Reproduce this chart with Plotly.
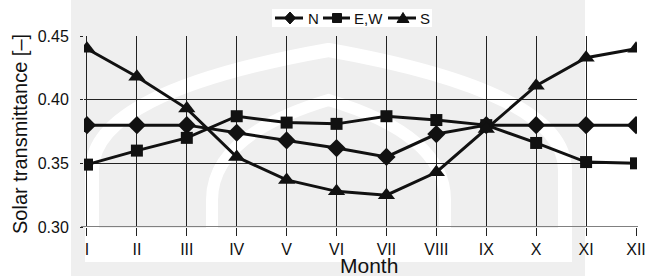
import plotly.graph_objects as go

months = ["I", "II", "III", "IV", "V", "VI", "VII", "VIII", "IX", "X", "XI", "XII"]
month_pos = [1, 2, 3, 4, 5, 6, 7, 8, 9, 10, 11, 12]
north = [0.380, 0.380, 0.380, 0.374, 0.368, 0.362, 0.355, 0.373, 0.380, 0.380, 0.380, 0.380]
east_west = [0.349, 0.360, 0.370, 0.387, 0.382, 0.381, 0.387, 0.384, 0.380, 0.366, 0.351, 0.350]
south = [0.440, 0.418, 0.393, 0.355, 0.337, 0.328, 0.325, 0.343, 0.377, 0.411, 0.433, 0.440]
series_names = ["N", "E,W", "S"]
y_ticks = [0.30, 0.35, 0.40, 0.45]
y_tick_labels = ["0.30", "0.35", "0.40", "0.45"]

W, H = 646, 276
L, R, T, B = 84, 9, 36, 49
PW, PH = W - L - R, H - T - B


def px(x):
    return (x - L) / PW


def py(y):
    return 1 - (y - T) / PH


INK = "#111111"
FONT = "Liberation Sans, Arial, sans-serif"

fig = go.Figure()
series = [(series_names[0], north, "diamond", 14), (series_names[1], east_west, "square", 12),
          (series_names[2], south, "triangle-up", 15)]
for name, vals, sym, size in series:
    fig.add_trace(go.Scatter(
        x=month_pos, y=vals, name=name, mode="lines+markers",
        line=dict(color=INK, width=3),
        marker=dict(symbol=sym, size=size, color=INK),
        showlegend=False,
    ))

shapes = []
# watermark background
shapes.append(dict(type="rect", xref="paper", yref="paper", x0=px(71), x1=px(585), y0=py(276), y1=py(0),
                   fillcolor="#efefef", line=dict(width=0), layer="below"))
shapes.append(dict(type="rect", xref="paper", yref="paper", x0=px(85), x1=px(572), y0=py(262), y1=py(228),
                   fillcolor="#ffffff", line=dict(width=0), layer="below"))


def arch(xl, xr, yb, ys, yt, w):
    xc = (xl + xr) / 2
    path = (f"M {px(xl)},{py(yb)} L {px(xl)},{py(ys)} Q {px(xl)},{py(yt + (ys - yt) * 0.35)} {px(xc)},{py(yt)} "
            f"Q {px(xr)},{py(yt + (ys - yt) * 0.35)} {px(xr)},{py(ys)} L {px(xr)},{py(yb)}")
    return dict(type="path", xref="paper", yref="paper", path=path,
                line=dict(color="#ffffff", width=w), layer="below")


shapes.append(arch(92, 565, 262, 170, 50, 14))
shapes.append(arch(212, 445, 262, 200, 100, 12))

# bottom axis line (gray, thicker)
shapes.append(dict(type="line", xref="paper", yref="y", x0=px(81), x1=px(638), y0=0.30, y1=0.30,
                   line=dict(color="#808080", width=2)))

# ---- custom legend (top centre) ----
LEG_Y = 18
shapes.append(dict(type="rect", xref="paper", yref="paper", x0=px(272), x1=px(432), y0=py(27), y1=py(9),
                   fillcolor="#ffffff", line=dict(width=0)))
legend_items = [  # (line x0, line x1, marker centre, text x)
    (275, 303, 290, 306),
    (323, 350, 337, 352),
    (388, 416, 403, 418),
]


def marker_path(kind, cx, cy):
    if kind == "diamond":
        pts = [(cx, cy - 6), (cx + 5.5, cy), (cx, cy + 6), (cx - 5.5, cy)]
    elif kind == "square":
        pts = [(cx - 4.5, cy - 4.5), (cx + 4.5, cy - 4.5), (cx + 4.5, cy + 4.5), (cx - 4.5, cy + 4.5)]
    else:
        pts = [(cx, cy - 5.5), (cx + 6, cy + 4.5), (cx - 6, cy + 4.5)]
    return "M " + " L ".join(f"{px(a)},{py(b)}" for a, b in pts) + " Z"


annotations = []
for (x0, x1, cx, tx), (name, _, sym, _) in zip(legend_items, series):
    shapes.append(dict(type="line", xref="paper", yref="paper", x0=px(x0), x1=px(x1), y0=py(LEG_Y), y1=py(LEG_Y),
                       line=dict(color=INK, width=3)))
    shapes.append(dict(type="path", xref="paper", yref="paper", path=marker_path(sym, cx, LEG_Y),
                       fillcolor=INK, line=dict(color=INK, width=1)))
    annotations.append(dict(text=name, x=px(tx), y=py(LEG_Y), xref="paper", yref="paper", showarrow=False,
                            xanchor="left", yanchor="middle", font=dict(size=15, family=FONT, color=INK)))

annotations += [
    dict(text="Month", x=px(369), y=py(265), xref="paper", yref="paper", showarrow=False,
         font=dict(size=21, family=FONT, color=INK), xanchor="center", yanchor="middle"),
    dict(text="Solar transmittance [–]", x=px(20), y=py(134), xref="paper", yref="paper", showarrow=False,
         textangle=-90, font=dict(size=20, family=FONT, color=INK), xanchor="center", yanchor="middle"),
]

fig.update_layout(
    width=W, height=H,
    margin=dict(l=L, r=R, t=T, b=B, autoexpand=False),
    paper_bgcolor="#ffffff",
    plot_bgcolor="rgba(0,0,0,0)",
    font=dict(family=FONT, color=INK, size=16),
    showlegend=False,
    shapes=shapes,
    annotations=annotations,
)
fig.update_xaxes(
    range=[0.94, 12.02], tickvals=month_pos, ticktext=months,
    showgrid=True, gridcolor="#222222", gridwidth=1,
    ticks="outside", ticklen=8, tickcolor="#222222",
    zeroline=False, showline=False, fixedrange=True, automargin=False,
)
fig.update_yaxes(
    range=[0.30, 0.45], tickvals=y_ticks, ticktext=y_tick_labels,
    showgrid=True, gridcolor="#222222", gridwidth=1,
    ticks="outside", ticklen=3, tickcolor="#222222", ticklabelstandoff=8,
    zeroline=False, showline=False, fixedrange=True, automargin=False,
)

fig.write_html("out.html", config={"displayModeBar": False},
               post_script="document.body.style.margin='0';document.body.style.overflow='hidden';")
